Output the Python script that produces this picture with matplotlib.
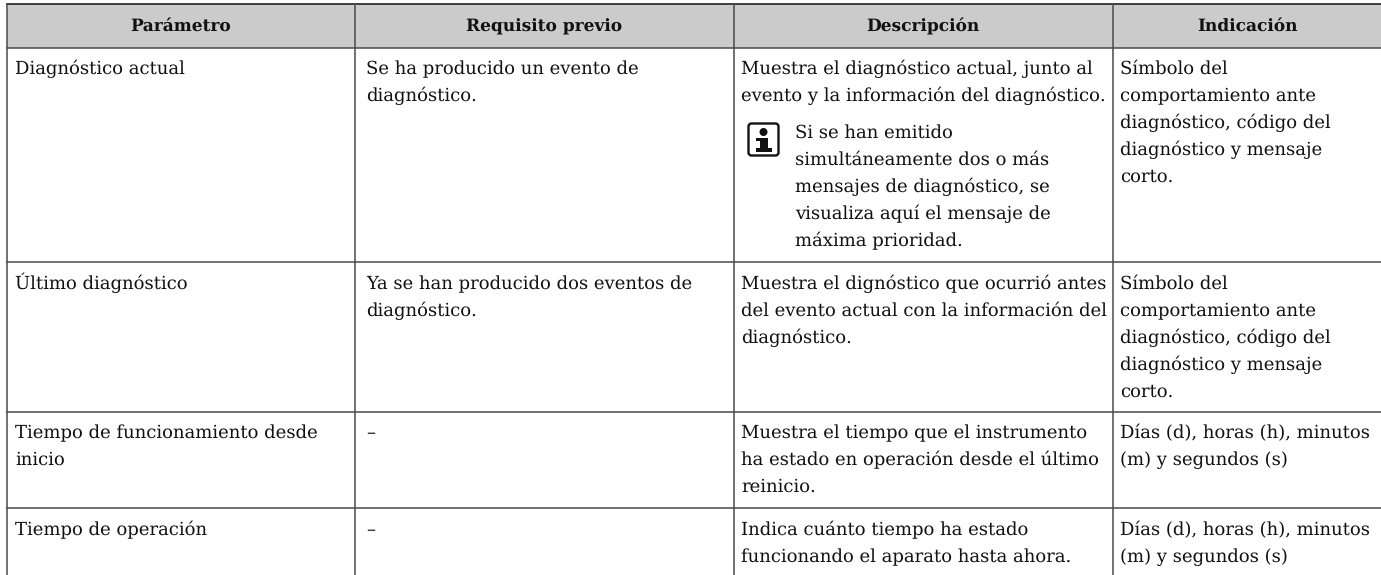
import matplotlib
matplotlib.use("Agg")
import matplotlib.pyplot as plt
from matplotlib.patches import Rectangle, FancyBboxPatch, Circle

plt.rcParams["text.hinting"] = "no_hinting"
plt.rcParams["text.hinting_factor"] = 1

W, H = 1381, 575
FONT = "DejaVu Serif"
SIZE = 12.85
HEAD_SIZE = 12.2

headers = ["Parámetro", "Requisito previo", "Descripción", "Indicación"]
col_lines = [7.5, 355, 734, 1113]
col_text = [15.5, 366.5, 741.5, 1120.5]
col_center = [181, 544, 923, 1247]
row_lines = [48, 262, 412, 508]
row_first = [68, 283, 432, 529]
pitch = 27.0

parametro = [["Diagnóstico actual"], ["Último diagnóstico"],
             ["Tiempo de funcionamiento desde", "inicio"], ["Tiempo de operación"]]
requisito = [["Se ha producido un evento de", "diagnóstico."],
             ["Ya se han producido dos eventos de", "diagnóstico."], ["–"], ["–"]]
descripcion = [["Muestra el diagnóstico actual, junto al", "evento y la información del diagnóstico."],
               ["Muestra el dignóstico que ocurrió antes", "del evento actual con la información del", "diagnóstico."],
               ["Muestra el tiempo que el instrumento", "ha estado en operación desde el último", "reinicio."],
               ["Indica cuánto tiempo ha estado", "funcionando el aparato hasta ahora."]]
indicacion = [["Símbolo del", "comportamiento ante", "diagnóstico, código del", "diagnóstico y mensaje", "corto."],
              ["Símbolo del", "comportamiento ante", "diagnóstico, código del", "diagnóstico y mensaje", "corto."],
              ["Días (d), horas (h), minutos", "(m) y segundos (s)"],
              ["Días (d), horas (h), minutos", "(m) y segundos (s)"]]
nota = ["Si se han emitido", "simultáneamente dos o más", "mensajes de diagnóstico, se",
        "visualiza aquí el mensaje de", "máxima prioridad."]

fig = plt.figure(figsize=(W / 100, H / 100), dpi=100, facecolor="white")
ax = fig.add_axes([0, 0, 1, 1])
ax.set_xlim(0, W)
ax.set_ylim(H, 0)
ax.axis("off")

LINE = "#4a4a4a"
ax.add_patch(Rectangle((col_lines[0], 4), W - col_lines[0], row_lines[0] - 4, fc="#cbcbcb", ec="none"))
ax.plot([col_lines[0], W], [4, 4], color="#303030", lw=1.3)
for y in row_lines:
    ax.plot([col_lines[0], W], [y, y], color=LINE, lw=1.1)
for x in col_lines:
    ax.plot([x, x], [4, H], color=LINE, lw=1.1)

def put(x, y, s, size=SIZE, **kw):
    ax.text(x, y + 6, s, family=FONT, fontsize=size, color="#111111", va="baseline", **kw)

for c, h in zip(col_center, headers):
    put(c, 25, h, size=HEAD_SIZE, ha="center", fontweight="bold")

for xt, column in zip(col_text, [parametro, requisito, descripcion, indicacion]):
    for y0, cell in zip(row_first, column):
        for i, s in enumerate(cell):
            put(xt, y0 + i * pitch, s)

for i, s in enumerate(nota):
    put(795, 132 + i * pitch, s)

# note icon
ax.add_patch(FancyBboxPatch((748.5, 123.5), 30, 32, boxstyle="round,pad=0,rounding_size=3",
                            fc="white", ec="#111111", lw=1.7))
ax.add_patch(Circle((763.5, 132), 4, fc="#111111", ec="none"))
ax.add_patch(Rectangle((756, 138), 12, 3.2, fc="#111111", ec="none"))
ax.add_patch(Rectangle((760, 138), 8, 11, fc="#111111", ec="none"))
ax.add_patch(Rectangle((756, 148), 16, 4, fc="#111111", ec="none"))

fig.savefig("out.png", dpi=100)
